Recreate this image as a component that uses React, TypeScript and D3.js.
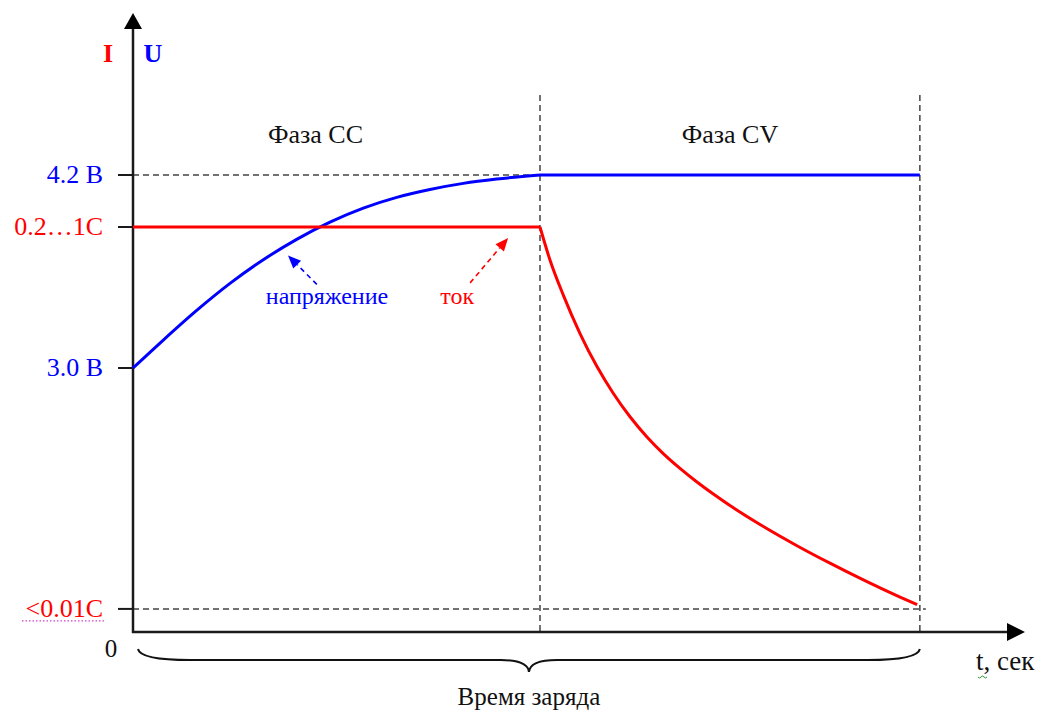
import * as d3 from "d3";

const W = 1039;
const H = 711;

// time in minutes (schematic), CC phase ends at 60, CV phase at 116
const voltageTime = [0, 4.47, 9.39, 14.3, 19.21, 24.13, 29.04, 33.95, 38.88, 43.78, 48.69, 53.62, 60];
const voltageValues = [3.0, 3.174, 3.358, 3.526, 3.673, 3.8, 3.907, 3.994, 4.061, 4.11, 4.148, 4.175, 4.2];
const cvTime = [60, 116];
const cvVoltage = [4.2, 4.2];

const ccTime = [0, 60];
const ccCurrent = [1, 1];
const decayTime = [60, 61.47, 63.39, 65.9, 68.4, 70.77, 73.27, 75.77, 78.13, 80.64, 83.14, 85.5, 88, 92.87, 97.88, 102.75, 107.6, 112.6, 115.6];
const decayCurrent = [1, 0.9185, 0.8336, 0.737, 0.6553, 0.5901, 0.5314, 0.4815, 0.4412, 0.404, 0.3704, 0.3412, 0.3123, 0.261, 0.2131, 0.1699, 0.1291, 0.0896, 0.0674];

const voltageTicks = [4.2, 3.0];
const voltageTickLabels = ["4.2 В", "3.0 В"];
const currentTicks = [1, 0.057];
const currentTickLabels = ["0.2…1C", "<0.01C"];

const phaseBounds = [0, 60, 116];
const phaseLabels = ["Фаза CC", "Фаза CV"];

const BLUE = "#0000ff";
const RED = "#ff0000";
const DASH = "#444";
const FONT = "Liberation Serif";

const x = d3.scaleLinear().domain([0, 60]).range([133, 540]);
const yV = d3.scaleLinear().domain([3.0, 4.2]).range([368, 175]);
const yI = d3.scaleLinear().domain([0, 1]).range([632, 227]);

const tMax = x.invert(1025);
const axisTop = 13;
const axisY = yI(0);

const zip = (a: number[], b: number[]) => a.map((t, i) => [t, b[i]] as [number, number]);

const lineV = d3
  .line<[number, number]>()
  .x((d) => x(d[0]))
  .y((d) => yV(d[1]));
const lineI = d3
  .line<[number, number]>()
  .x((d) => x(d[0]))
  .y((d) => yI(d[1]));

function DashArrow({ x1, y1, x2, y2, color }: { x1: number; y1: number; x2: number; y2: number; color: string }) {
  const a = Math.atan2(y2 - y1, x2 - x1);
  const len = 13;
  const wid = 5.5;
  const bx = x2 - len * Math.cos(a);
  const by = y2 - len * Math.sin(a);
  const px = -Math.sin(a) * wid;
  const py = Math.cos(a) * wid;
  return (
    <g>
      <line x1={x1} y1={y1} x2={bx} y2={by} stroke={color} strokeWidth={1.6} strokeDasharray="5 4" />
      <polygon points={`${x2},${y2} ${bx + px},${by + py} ${bx - px},${by - py}`} fill={color} />
    </g>
  );
}

export default function App() {
  const x0 = x(0);
  const braceL = x0 + 5;
  const braceR = x(116);
  const braceM = (braceL + braceR) / 2;
  const bTop = axisY + 17;
  const bMid = axisY + 28;
  const bTip = axisY + 40;
  const brace = `M${braceL},${bTop} Q${braceL + 2},${bMid} ${braceL + 52},${bMid} L${braceM - 28},${bMid} Q${braceM - 1},${bMid} ${braceM},${bTip} Q${braceM + 1},${bMid} ${braceM + 28},${bMid} L${braceR - 52},${bMid} Q${braceR - 2},${bMid} ${braceR},${bTop}`;

  return (
    <div>
      <style>{"body{margin:0;background:#fff}"}</style>
      <svg width={W} height={H} viewBox={`0 0 ${W} ${H}`} fontFamily={FONT} style={{ display: "block" }}>
        <rect width={W} height={H} fill="#fff" />

        {/* phase separators */}
        {phaseBounds.slice(1).map((t) => (
          <line key={t} x1={x(t)} x2={x(t)} y1={95} y2={axisY} stroke={DASH} strokeWidth={1.5} strokeDasharray="6 4" />
        ))}
        <line x1={x0} x2={x(60)} y1={yV(4.2)} y2={yV(4.2)} stroke={DASH} strokeWidth={1.5} strokeDasharray="6 4" />
        <line x1={x0} x2={x(116) + 6} y1={yI(0.057)} y2={yI(0.057)} stroke={DASH} strokeWidth={1.5} strokeDasharray="6 4" />

        {/* phase labels */}
        {phaseLabels.map((lab, i) => (
          <text
            key={lab}
            x={(x(phaseBounds[i]) + x(phaseBounds[i + 1])) / 2 - (i === 0 ? 21 : 0)}
            y={143}
            textAnchor="middle"
            fontFamily={FONT}
            fontSize={26}
            fill="#111"
          >
            {lab}
          </text>
        ))}

        {/* axes */}
        <line x1={x0} x2={x0} y1={axisTop + 14} y2={axisY + 1} stroke="#1a1a1a" strokeWidth={2.5} />
        <polygon points={`${x0},${axisTop} ${x0 - 9},${axisTop + 16} ${x0 + 9},${axisTop + 16}`} fill="#000" />
        <line x1={x0 - 1} x2={x(tMax) - 16} y1={axisY} y2={axisY} stroke="#1a1a1a" strokeWidth={2.5} />
        <polygon points={`${x(tMax)},${axisY} ${x(tMax) - 18},${axisY - 9} ${x(tMax) - 18},${axisY + 9}`} fill="#000" />

        {/* y ticks */}
        {voltageTicks.map((v, i) => (
          <g key={v}>
            <line x1={x0 - 15} x2={x0} y1={yV(v)} y2={yV(v)} stroke="#1a1a1a" strokeWidth={2} />
            <text x={103} y={yV(v) + 8} textAnchor="end" fontFamily={FONT} fontSize={26} fill={BLUE}>
              {voltageTickLabels[i]}
            </text>
          </g>
        ))}
        {currentTicks.map((c, i) => (
          <g key={c}>
            <line x1={x0 - 15} x2={x0} y1={yI(c)} y2={yI(c)} stroke="#1a1a1a" strokeWidth={2} />
            <text x={103} y={yI(c) + 8} textAnchor="end" fontFamily={FONT} fontSize={26} fill={RED}>
              {currentTickLabels[i]}
            </text>
          </g>
        ))}
        <line x1={22} x2={104} y1={yI(0.057) + 12} y2={yI(0.057) + 12} stroke="#d040d0" strokeWidth={1.2} strokeDasharray="1.5 2" />

        {/* axis titles */}
        <text x={108} y={62} textAnchor="middle" fontFamily={FONT} fontSize={26} fontWeight="bold" fill={RED}>
          I
        </text>
        <text x={153} y={62} textAnchor="middle" fontFamily={FONT} fontSize={26} fontWeight="bold" fill={BLUE}>
          U
        </text>
        <text x={111} y={657} textAnchor="middle" fontFamily={FONT} fontSize={25} fill="#111">
          0
        </text>
        <text x={976} y={670} fontFamily={FONT} fontSize={27} fill="#111">
          t, сек
        </text>
        <path d="M978,677 q1.5,2 3,0 q1.5,-2 3,0 q1.5,2 3,0" fill="none" stroke="#2a9a2a" strokeWidth={1} />

        {/* curves */}
        <path d={lineV.curve(d3.curveMonotoneX)(zip(voltageTime, voltageValues)) ?? ""} fill="none" stroke={BLUE} strokeWidth={3} />
        <path d={lineV.curve(d3.curveLinear)(zip(cvTime, cvVoltage)) ?? ""} fill="none" stroke={BLUE} strokeWidth={3} />
        <path d={lineI.curve(d3.curveLinear)(zip(ccTime, ccCurrent)) ?? ""} fill="none" stroke={RED} strokeWidth={3} />
        <path d={lineI.curve(d3.curveMonotoneX)(zip(decayTime, decayCurrent)) ?? ""} fill="none" stroke={RED} strokeWidth={3} />

        {/* annotations */}
        <DashArrow x1={x(27.1)} y1={yV(3.52)} x2={x(22.85)} y2={yV(3.7)} color={BLUE} />
        <DashArrow x1={x(49.7)} y1={yI(0.862)} x2={x(55.3)} y2={yI(0.973)} color={RED} />
        <text x={x(28.6)} y={yV(3.4)} textAnchor="middle" fontFamily={FONT} fontSize={24} fill={BLUE}>
          напряжение
        </text>
        <text x={x(47.8)} y={yI(0.81)} textAnchor="middle" fontFamily={FONT} fontSize={24} fill={RED}>
          ток
        </text>

        {/* brace */}
        <path d={brace} fill="none" stroke="#111" strokeWidth={2} />
        <text x={braceM} y={705} textAnchor="middle" fontFamily={FONT} fontSize={25} fill="#111">
          Время заряда
        </text>
      </svg>
    </div>
  );
}
